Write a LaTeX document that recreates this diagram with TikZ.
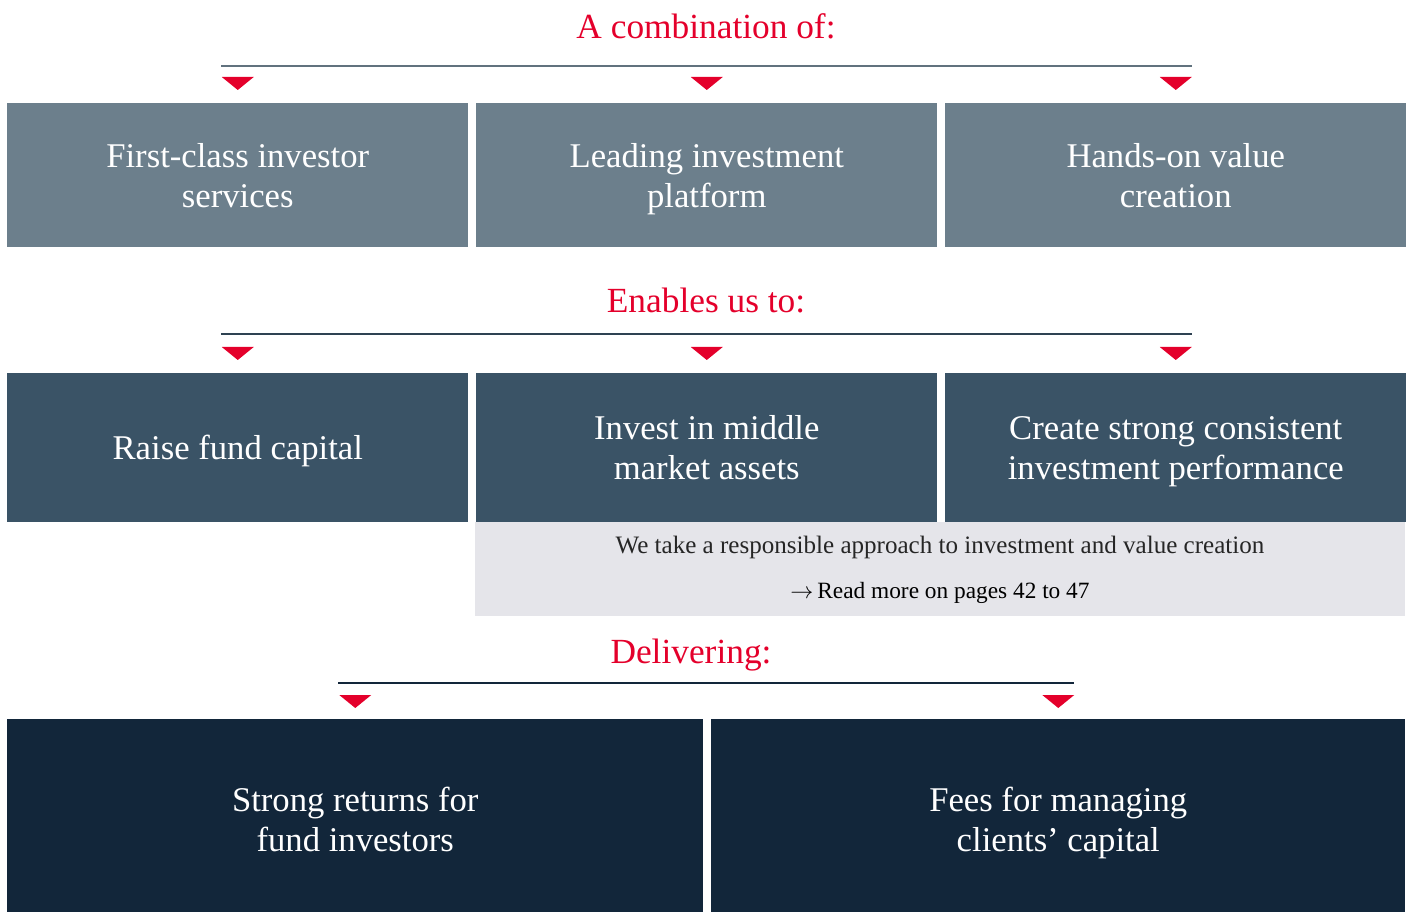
\documentclass[tikz,border=0pt]{standalone}
\usepackage{fontspec}
\setmainfont{Liberation Serif}
\usetikzlibrary{calc}

\definecolor{headred}{HTML}{E4002B}
\definecolor{slatelight}{HTML}{6C7F8C}
\definecolor{slatemid}{HTML}{3A5366}
\definecolor{slatedark}{HTML}{12263A}
\definecolor{notegray}{HTML}{E5E5EA}
\newcommand{\pxu}{0.75pt}
\newcommand{\tstrut}{\rule[-6pt]{0pt}{30pt}}
\newcommand{\lowstrut}{\rule[-6pt]{0pt}{35pt}}

\tikzset{
	heading/.style={text=headred, font=\fontsize{26.5}{30}\selectfont, inner sep=0pt, anchor=base},
	tile/.style={rectangle, anchor=north west, inner sep=0pt, text=white, align=center,
		font=\fontsize{26}{30}\selectfont},
	rule/.style={line width=1.5pt},
	marker/.style={fill=headred, draw=none},
}

\begin{document}
\begin{tikzpicture}[x=0.75pt, y=-0.75pt]
	\useasboundingbox (0,0) rectangle (1413,912);

	% first row
	\node[heading] (combo) at (706,38.5) {A combination of:};
	\coordinate (comboL) at (221,66);
	\coordinate (comboR) at (1192,66);
	\draw[rule, draw=slatelight!90!black] (comboL) -- (comboR);
	\node[tile, fill=slatelight, minimum width=461*\pxu, minimum height=144*\pxu] (investor) at (7,103) {\tstrut First-class investor\\\tstrut services};
	\node[tile, fill=slatelight, minimum width=461*\pxu, minimum height=144*\pxu] (platform) at (476,103) {\tstrut Leading investment\\\tstrut platform};
	\node[tile, fill=slatelight, minimum width=461*\pxu, minimum height=144*\pxu] (handson) at (945,103) {\tstrut Hands-on value\\\tstrut creation};
	\foreach \n in {investor, platform, handson}
		\fill[marker] ($(\n.north)+(-16,-26)$) -- ++(32,0) -- ($(\n.north)+(0,-13)$) -- cycle;

	% second row
	\node[heading] (enables) at (706,313) {Enables us to:};
	\coordinate (enablesL) at (221,334);
	\coordinate (enablesR) at (1192,334);
	\draw[rule, draw=slatemid!80!black] (enablesL) -- (enablesR);
	\node[tile, fill=slatemid, minimum width=461*\pxu, minimum height=149*\pxu] (raise) at (7,373) {\tstrut Raise fund capital};
	\node[tile, fill=slatemid, minimum width=461*\pxu, minimum height=149*\pxu] (invest) at (476,373) {\tstrut Invest in middle\\\tstrut market assets};
	\node[tile, fill=slatemid, minimum width=461*\pxu, minimum height=149*\pxu] (perform) at (945,373) {\tstrut Create strong consistent\\\tstrut investment performance};
	\foreach \n in {raise, invest, perform}
		\fill[marker] ($(\n.north)+(-16,-26)$) -- ++(32,0) -- ($(\n.north)+(0,-13)$) -- cycle;

	% note below
	\node[rectangle, anchor=north west, inner sep=0pt, fill=notegray, minimum width=930*\pxu, minimum height=94*\pxu] (note) at (475,522) {};
	\node[font=\fontsize{18.8}{22}\selectfont, text=black!85] (notetext) at (940,547) {We take a responsible approach to investment and value creation};
	\node[font=\fontsize{17.5}{20}\selectfont] (noteref) at (940,593) {$\rightarrow$\,Read more on pages 42 to 47};

	% third row
	\node[heading] (deliver) at (691,663) {Delivering:};
	\coordinate (deliverL) at (338,683);
	\coordinate (deliverR) at (1074,683);
	\draw[rule, draw=slatedark] (deliverL) -- (deliverR);
	\node[tile, fill=slatedark, minimum width=696*\pxu, minimum height=193*\pxu] (returns) at (7,719) {\lowstrut Strong returns for\\\tstrut fund investors};
	\node[tile, fill=slatedark, minimum width=694*\pxu, minimum height=193*\pxu] (fees) at (711,719) {\lowstrut Fees for managing\\\tstrut clients’ capital};
	\fill[marker] ($(returns.north)+(-16,-24)$) -- ++(32,0) -- ($(returns.north)+(0,-11)$) -- cycle;
	\fill[marker] ($(fees.north)+(-16,-24)$) -- ++(32,0) -- ($(fees.north)+(0,-11)$) -- cycle;
\end{tikzpicture}
\end{document}
